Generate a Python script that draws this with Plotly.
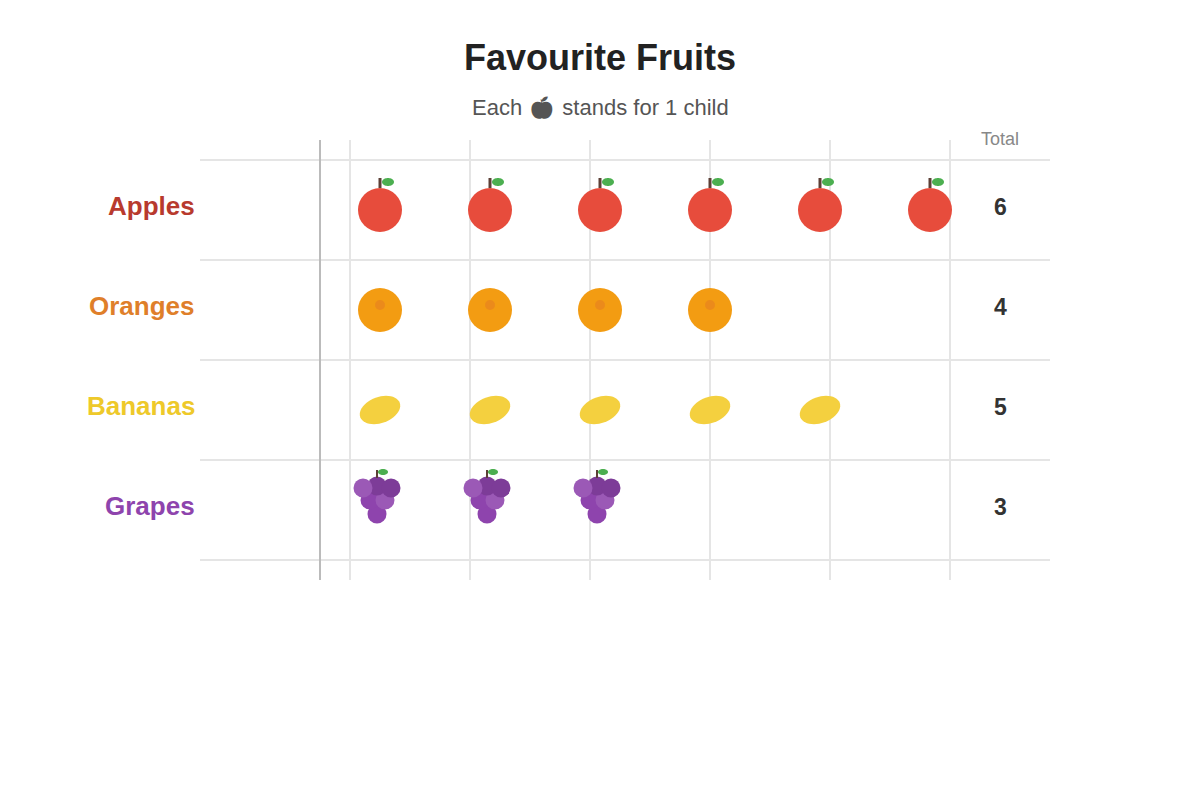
import math
import plotly.graph_objects as go

categories = ["Apples", "Oranges", "Bananas", "Grapes"]
counts = [6, 4, 5, 3]
label_colors = ["#b83a2e", "#df7f2a", "#eec92a", "#8e44ad"]
fruit_colors = ["#e74c3c", "#f39c12", "#f4d03f", "#8e44ad"]
title_text = "Favourite Fruits"
subtitle_text = "Each 🍎\ufe0e stands for 1 child"
total_label = "Total"

PX_X, PX_Y = 110, 100          # pixels per icon column / per row
X0, Y0 = 380, 210              # pixel position of column 0 / row 0
W, H = 1200, 800
xr = [(0 - X0) / PX_X, (W - X0) / PX_X]
yr = [(H - Y0) / PX_Y, (0 - Y0) / PX_Y]


def X(px):
    return (px - X0) / PX_X


def Y(px):
    return (px - Y0) / PX_Y


def ellipse_path(cx, cy, rx, ry, deg=0, n=48):
    a = math.radians(deg)
    pts = []
    for k in range(n):
        t = 2 * math.pi * k / n
        ex, ey = rx * math.cos(t), ry * math.sin(t)
        pts.append((cx + ex * math.cos(a) - ey * math.sin(a),
                    cy + ex * math.sin(a) + ey * math.cos(a)))
    return "M" + "L".join(f"{X(p):.4f},{Y(q):.4f}" for p, q in pts) + "Z"


shapes = []
for gy in [160, 260, 360, 460, 560]:
    shapes.append(dict(type="line", x0=X(200), x1=X(1050), y0=Y(gy), y1=Y(gy),
                       line=dict(color="#e5e5e5", width=2), layer="below"))
for gx in [350, 470, 590, 710, 830, 950]:
    shapes.append(dict(type="line", x0=X(gx), x1=X(gx), y0=Y(140), y1=Y(580),
                       line=dict(color="#e5e5e5", width=2), layer="below"))
shapes.append(dict(type="line", x0=X(320), x1=X(320), y0=Y(140), y1=Y(580),
                   line=dict(color="#bbbbbb", width=2), layer="below"))

fig = go.Figure()


def add_circles(xs, ys, color, d, opacity=1.0):
    fig.add_trace(go.Scatter(x=xs, y=ys, mode="markers", hoverinfo="skip", showlegend=False,
                             marker=dict(color=color, size=d, opacity=opacity, line=dict(width=0))))


def stem_leaf(cx, y0, y1, w, lx, ly, lrx, lry):
    shapes.append(dict(type="line", x0=X(cx), x1=X(cx), y0=Y(y0), y1=Y(y1),
                       line=dict(color="#5d4037", width=w), layer="above"))
    shapes.append(dict(type="path", path=ellipse_path(lx, ly, lrx, lry),
                       fillcolor="#4caf50", line=dict(width=0), layer="above"))


for row, (cat, n) in enumerate(zip(categories, counts)):
    cols = list(range(n))
    if cat == "Apples":
        add_circles(cols, [row] * n, fruit_colors[row], 44)
        for c in cols:
            px = X0 + c * PX_X
            stem_leaf(px, 178, 188, 3, px + 8, 182, 6, 4)
    elif cat == "Oranges":
        add_circles(cols, [row] * n, fruit_colors[row], 44)
        add_circles(cols, [row - 0.05] * n, "#e67e22", 10, 0.6)
    elif cat == "Bananas":
        for c in cols:
            px = X0 + c * PX_X
            shapes.append(dict(type="path", path=ellipse_path(px, 410, 21, 13, -20),
                               fillcolor=fruit_colors[row], line=dict(width=0), layer="above"))
    else:
        grape_layout = [(-3, 514, "#8e44ad"), (-10, 500, "#8e44ad"), (5, 500, "#9b59b6"),
                        (-3, 486, "#7d3c98"), (11, 488, "#7d3c98"), (-17, 488, "#9b59b6")]
        for dx, py, col in grape_layout:
            add_circles([c + dx / PX_X for c in cols], [Y(py)] * n, col, 19)
        for c in cols:
            px = X0 + c * PX_X
            stem_leaf(px - 3, 470, 478, 2, px + 3, 472, 5, 3)

annotations = []
for row, (cat, n, col) in enumerate(zip(categories, counts, label_colors)):
    annotations.append(dict(x=X(196.7), y=row - 0.04, xref="x", yref="y", text=f"<b>{cat}</b>", showarrow=False,
                            xanchor="right", yanchor="middle", font=dict(size=26, color=col)))
    annotations.append(dict(x=X(1000), y=row - 0.03, xref="x", yref="y", text=f"<b>{n}</b>", showarrow=False,
                            xanchor="center", yanchor="middle", font=dict(size=23, color="#333333")))
annotations.append(dict(x=X(1000), y=Y(139), xref="x", yref="y", text=total_label, showarrow=False,
                        xanchor="center", yanchor="middle", font=dict(size=18, color="#888888")))
annotations.append(dict(x=X(600), y=Y(57), xref="x", yref="y", text=f"<b>{title_text}</b>", showarrow=False,
                        xanchor="center", yanchor="middle", font=dict(size=36, color="#222222")))
annotations.append(dict(x=X(600), y=Y(107), xref="x", yref="y", text=subtitle_text, showarrow=False,
                        xanchor="center", yanchor="middle", font=dict(size=22, color="#555555")))

fig.update_layout(
    width=W, height=H, margin=dict(l=0, r=0, t=0, b=0),
    paper_bgcolor="white", plot_bgcolor="white",
    font=dict(family="Liberation Sans, Arial, sans-serif"),
    xaxis=dict(range=xr, visible=False, fixedrange=True),
    yaxis=dict(range=yr, visible=False, fixedrange=True),
    shapes=shapes, annotations=annotations, showlegend=False,
)
fig.write_html("out.html", config={"displayModeBar": False},
               post_script="document.body.style.margin='0';document.body.style.overflow='hidden';")
